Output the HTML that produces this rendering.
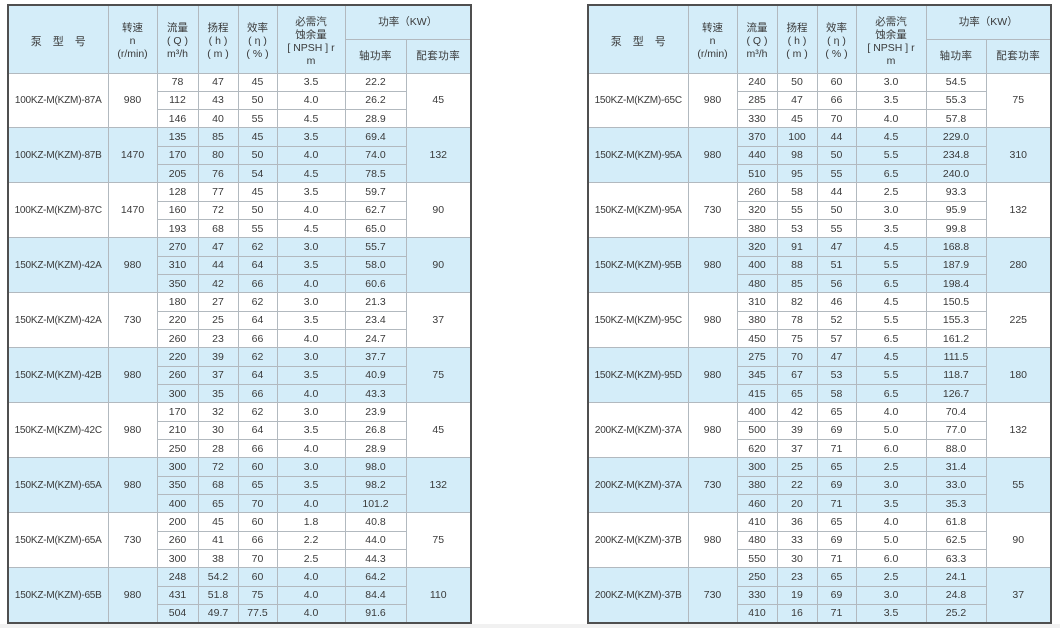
<!DOCTYPE html>
<html>
<head>
<meta charset="utf-8">
<style>
html,body{margin:0;padding:0;background:#fff;}
body{width:1060px;height:628px;position:relative;overflow:hidden;}
.t{position:absolute;top:4px;border-collapse:collapse;table-layout:fixed;width:463px;height:618px;border:2px solid #4f4f4f;font-family:"Liberation Sans","Noto Sans CJK SC",sans-serif;font-size:10.5px;color:#3a3a3a;}
.t td,.t th{border:1px solid #b2b9bf;padding:0;text-align:center;vertical-align:middle;white-space:nowrap;overflow:hidden;}
.t th{background:#d4edf9;font-weight:normal;line-height:13px;font-size:10.5px;}
.t th.p3{padding-top:4px;}
.t th.p4{padding-top:5px;}
.t th.pm{padding-top:6px;font-size:11px;}
.t tr.h{height:34px;}
.t tbody tr{height:18.33px;}
.t tbody.b td{background:#d4edf9;}
.t td.m{font-size:10px;letter-spacing:-0.2px;}
.cj{letter-spacing:0.5px;}
.strip{position:absolute;left:0;top:624px;width:1060px;height:4px;background:#f1f1f1;}
</style>
</head>
<body>

<table class="t" style="left:7px;">
<colgroup><col style="width:100px"><col style="width:49px"><col style="width:41px"><col style="width:40px"><col style="width:39px"><col style="width:68px"><col style="width:61px"><col style="width:65px"></colgroup>
<thead>
<tr class="h"><th rowspan="2" class="pm">泵&emsp;型&emsp;号</th><th rowspan="2" class="p3">转速<br>n<br>(r/min)</th><th rowspan="2" class="p3">流量<br>( Q )<br>m³/h</th><th rowspan="2" class="p3">扬程<br>( h )<br>( m )</th><th rowspan="2" class="p3">效率<br>( η )<br>( % )</th><th rowspan="2" class="p4">必需汽<br>蚀余量<br>[ NPSH ] r<br>m</th><th colspan="2">功率（KW）</th></tr>
<tr class="h"><th class="cj">轴功率</th><th class="cj">配套功率</th></tr>
</thead>
<tbody>
<tr><td rowspan="3" class="m">100KZ-M(KZM)-87A</td><td rowspan="3">980</td><td>78</td><td>47</td><td>45</td><td>3.5</td><td>22.2</td><td rowspan="3">45</td></tr>
<tr><td>112</td><td>43</td><td>50</td><td>4.0</td><td>26.2</td></tr>
<tr><td>146</td><td>40</td><td>55</td><td>4.5</td><td>28.9</td></tr>
</tbody>
<tbody class="b">
<tr><td rowspan="3" class="m">100KZ-M(KZM)-87B</td><td rowspan="3">1470</td><td>135</td><td>85</td><td>45</td><td>3.5</td><td>69.4</td><td rowspan="3">132</td></tr>
<tr><td>170</td><td>80</td><td>50</td><td>4.0</td><td>74.0</td></tr>
<tr><td>205</td><td>76</td><td>54</td><td>4.5</td><td>78.5</td></tr>
</tbody>
<tbody>
<tr><td rowspan="3" class="m">100KZ-M(KZM)-87C</td><td rowspan="3">1470</td><td>128</td><td>77</td><td>45</td><td>3.5</td><td>59.7</td><td rowspan="3">90</td></tr>
<tr><td>160</td><td>72</td><td>50</td><td>4.0</td><td>62.7</td></tr>
<tr><td>193</td><td>68</td><td>55</td><td>4.5</td><td>65.0</td></tr>
</tbody>
<tbody class="b">
<tr><td rowspan="3" class="m">150KZ-M(KZM)-42A</td><td rowspan="3">980</td><td>270</td><td>47</td><td>62</td><td>3.0</td><td>55.7</td><td rowspan="3">90</td></tr>
<tr><td>310</td><td>44</td><td>64</td><td>3.5</td><td>58.0</td></tr>
<tr><td>350</td><td>42</td><td>66</td><td>4.0</td><td>60.6</td></tr>
</tbody>
<tbody>
<tr><td rowspan="3" class="m">150KZ-M(KZM)-42A</td><td rowspan="3">730</td><td>180</td><td>27</td><td>62</td><td>3.0</td><td>21.3</td><td rowspan="3">37</td></tr>
<tr><td>220</td><td>25</td><td>64</td><td>3.5</td><td>23.4</td></tr>
<tr><td>260</td><td>23</td><td>66</td><td>4.0</td><td>24.7</td></tr>
</tbody>
<tbody class="b">
<tr><td rowspan="3" class="m">150KZ-M(KZM)-42B</td><td rowspan="3">980</td><td>220</td><td>39</td><td>62</td><td>3.0</td><td>37.7</td><td rowspan="3">75</td></tr>
<tr><td>260</td><td>37</td><td>64</td><td>3.5</td><td>40.9</td></tr>
<tr><td>300</td><td>35</td><td>66</td><td>4.0</td><td>43.3</td></tr>
</tbody>
<tbody>
<tr><td rowspan="3" class="m">150KZ-M(KZM)-42C</td><td rowspan="3">980</td><td>170</td><td>32</td><td>62</td><td>3.0</td><td>23.9</td><td rowspan="3">45</td></tr>
<tr><td>210</td><td>30</td><td>64</td><td>3.5</td><td>26.8</td></tr>
<tr><td>250</td><td>28</td><td>66</td><td>4.0</td><td>28.9</td></tr>
</tbody>
<tbody class="b">
<tr><td rowspan="3" class="m">150KZ-M(KZM)-65A</td><td rowspan="3">980</td><td>300</td><td>72</td><td>60</td><td>3.0</td><td>98.0</td><td rowspan="3">132</td></tr>
<tr><td>350</td><td>68</td><td>65</td><td>3.5</td><td>98.2</td></tr>
<tr><td>400</td><td>65</td><td>70</td><td>4.0</td><td>101.2</td></tr>
</tbody>
<tbody>
<tr><td rowspan="3" class="m">150KZ-M(KZM)-65A</td><td rowspan="3">730</td><td>200</td><td>45</td><td>60</td><td>1.8</td><td>40.8</td><td rowspan="3">75</td></tr>
<tr><td>260</td><td>41</td><td>66</td><td>2.2</td><td>44.0</td></tr>
<tr><td>300</td><td>38</td><td>70</td><td>2.5</td><td>44.3</td></tr>
</tbody>
<tbody class="b">
<tr><td rowspan="3" class="m">150KZ-M(KZM)-65B</td><td rowspan="3">980</td><td>248</td><td>54.2</td><td>60</td><td>4.0</td><td>64.2</td><td rowspan="3">110</td></tr>
<tr><td>431</td><td>51.8</td><td>75</td><td>4.0</td><td>84.4</td></tr>
<tr><td>504</td><td>49.7</td><td>77.5</td><td>4.0</td><td>91.6</td></tr>
</tbody>
</table>

<table class="t" style="left:587px;">
<colgroup><col style="width:100px"><col style="width:49px"><col style="width:40px"><col style="width:40px"><col style="width:39px"><col style="width:70px"><col style="width:60px"><col style="width:65px"></colgroup>
<thead>
<tr class="h"><th rowspan="2" class="pm">泵&emsp;型&emsp;号</th><th rowspan="2" class="p3">转速<br>n<br>(r/min)</th><th rowspan="2" class="p3">流量<br>( Q )<br>m³/h</th><th rowspan="2" class="p3">扬程<br>( h )<br>( m )</th><th rowspan="2" class="p3">效率<br>( η )<br>( % )</th><th rowspan="2" class="p4">必需汽<br>蚀余量<br>[ NPSH ] r<br>m</th><th colspan="2">功率（KW）</th></tr>
<tr class="h"><th class="cj">轴功率</th><th class="cj">配套功率</th></tr>
</thead>
<tbody>
<tr><td rowspan="3" class="m">150KZ-M(KZM)-65C</td><td rowspan="3">980</td><td>240</td><td>50</td><td>60</td><td>3.0</td><td>54.5</td><td rowspan="3">75</td></tr>
<tr><td>285</td><td>47</td><td>66</td><td>3.5</td><td>55.3</td></tr>
<tr><td>330</td><td>45</td><td>70</td><td>4.0</td><td>57.8</td></tr>
</tbody>
<tbody class="b">
<tr><td rowspan="3" class="m">150KZ-M(KZM)-95A</td><td rowspan="3">980</td><td>370</td><td>100</td><td>44</td><td>4.5</td><td>229.0</td><td rowspan="3">310</td></tr>
<tr><td>440</td><td>98</td><td>50</td><td>5.5</td><td>234.8</td></tr>
<tr><td>510</td><td>95</td><td>55</td><td>6.5</td><td>240.0</td></tr>
</tbody>
<tbody>
<tr><td rowspan="3" class="m">150KZ-M(KZM)-95A</td><td rowspan="3">730</td><td>260</td><td>58</td><td>44</td><td>2.5</td><td>93.3</td><td rowspan="3">132</td></tr>
<tr><td>320</td><td>55</td><td>50</td><td>3.0</td><td>95.9</td></tr>
<tr><td>380</td><td>53</td><td>55</td><td>3.5</td><td>99.8</td></tr>
</tbody>
<tbody class="b">
<tr><td rowspan="3" class="m">150KZ-M(KZM)-95B</td><td rowspan="3">980</td><td>320</td><td>91</td><td>47</td><td>4.5</td><td>168.8</td><td rowspan="3">280</td></tr>
<tr><td>400</td><td>88</td><td>51</td><td>5.5</td><td>187.9</td></tr>
<tr><td>480</td><td>85</td><td>56</td><td>6.5</td><td>198.4</td></tr>
</tbody>
<tbody>
<tr><td rowspan="3" class="m">150KZ-M(KZM)-95C</td><td rowspan="3">980</td><td>310</td><td>82</td><td>46</td><td>4.5</td><td>150.5</td><td rowspan="3">225</td></tr>
<tr><td>380</td><td>78</td><td>52</td><td>5.5</td><td>155.3</td></tr>
<tr><td>450</td><td>75</td><td>57</td><td>6.5</td><td>161.2</td></tr>
</tbody>
<tbody class="b">
<tr><td rowspan="3" class="m">150KZ-M(KZM)-95D</td><td rowspan="3">980</td><td>275</td><td>70</td><td>47</td><td>4.5</td><td>111.5</td><td rowspan="3">180</td></tr>
<tr><td>345</td><td>67</td><td>53</td><td>5.5</td><td>118.7</td></tr>
<tr><td>415</td><td>65</td><td>58</td><td>6.5</td><td>126.7</td></tr>
</tbody>
<tbody>
<tr><td rowspan="3" class="m">200KZ-M(KZM)-37A</td><td rowspan="3">980</td><td>400</td><td>42</td><td>65</td><td>4.0</td><td>70.4</td><td rowspan="3">132</td></tr>
<tr><td>500</td><td>39</td><td>69</td><td>5.0</td><td>77.0</td></tr>
<tr><td>620</td><td>37</td><td>71</td><td>6.0</td><td>88.0</td></tr>
</tbody>
<tbody class="b">
<tr><td rowspan="3" class="m">200KZ-M(KZM)-37A</td><td rowspan="3">730</td><td>300</td><td>25</td><td>65</td><td>2.5</td><td>31.4</td><td rowspan="3">55</td></tr>
<tr><td>380</td><td>22</td><td>69</td><td>3.0</td><td>33.0</td></tr>
<tr><td>460</td><td>20</td><td>71</td><td>3.5</td><td>35.3</td></tr>
</tbody>
<tbody>
<tr><td rowspan="3" class="m">200KZ-M(KZM)-37B</td><td rowspan="3">980</td><td>410</td><td>36</td><td>65</td><td>4.0</td><td>61.8</td><td rowspan="3">90</td></tr>
<tr><td>480</td><td>33</td><td>69</td><td>5.0</td><td>62.5</td></tr>
<tr><td>550</td><td>30</td><td>71</td><td>6.0</td><td>63.3</td></tr>
</tbody>
<tbody class="b">
<tr><td rowspan="3" class="m">200KZ-M(KZM)-37B</td><td rowspan="3">730</td><td>250</td><td>23</td><td>65</td><td>2.5</td><td>24.1</td><td rowspan="3">37</td></tr>
<tr><td>330</td><td>19</td><td>69</td><td>3.0</td><td>24.8</td></tr>
<tr><td>410</td><td>16</td><td>71</td><td>3.5</td><td>25.2</td></tr>
</tbody>
</table>

<div class="strip"></div>
</body>
</html>
